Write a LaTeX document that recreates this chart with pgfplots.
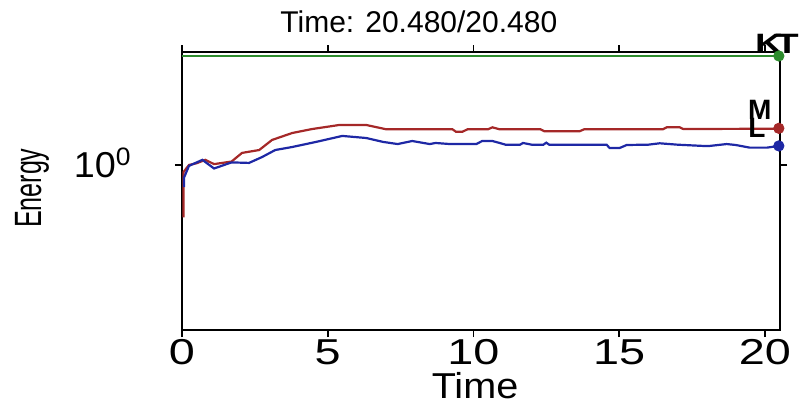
\documentclass[border=0pt]{standalone}
\usepackage{pgfplots}
\pgfplotsset{compat=1.18}
\usepackage{fontspec}
\setmainfont{Liberation Sans}
\definecolor{cG}{RGB}{45,140,45}
\definecolor{cR}{RGB}{165,40,40}
\definecolor{cB}{RGB}{30,40,165}
\begin{document}
\begin{tikzpicture}
\begin{axis}[
  scale only axis,
  width=299pt, height=139pt,
  ymode=log,
  xmin=0, xmax=20.52,
  ymin=0.3869, ymax=1.916,
  xtick={0,5,10,15,20},
  xticklabels={\scalebox{1.3}[1]{0},\scalebox{1.3}[1]{5},\scalebox{1.3}[1]{10},\scalebox{1.3}[1]{15},\scalebox{1.3}[1]{20}},
  ytick={1},
  yticklabels={\scalebox{1.05}[1]{10\textsuperscript{0}}},
  yminorticks=false,
  xminorticks=false,
  tick align=outside,
  tick pos=both,
  major tick length=3.5pt,
  tick style={black, line width=0.9pt},
  axis line style={line width=0.9pt},
  tick label style={font=\fontsize{18}{18}\selectfont, inner sep=0pt},
  xticklabel style={anchor=base, yshift=-13.5pt},
  yticklabel style={anchor=base east, xshift=-21.5pt, yshift=-6.5pt},
  clip=false,
]
\addplot[cG, line width=1.1pt] coordinates {(0,1.873) (20.48,1.873)};
\addplot[cR, line width=1.1pt] coordinates {
(0.05,0.74) (0.05,0.96) (0.24,1.0) (0.5,1.01) (0.8,1.03) (1.1,1.005) (1.7,1.02)
(2.06,1.072) (2.65,1.09) (3.09,1.155) (3.78,1.202) (4.47,1.23) (5.4,1.259) (6.32,1.259)
(7.01,1.228) (9.28,1.228) (9.4,1.211) (9.62,1.211) (9.8,1.228) (10.5,1.228) (10.65,1.242)
(10.9,1.228) (12.3,1.228) (12.44,1.214) (13.64,1.214) (13.8,1.228) (16.5,1.228)
(16.63,1.242) (17.08,1.242) (17.2,1.230) (20.48,1.232)};
\addplot[cB, line width=1.1pt] coordinates {
(0.07,0.88) (0.07,0.93) (0.24,0.995) (0.7,1.03) (1.1,0.98) (1.7,1.015) (2.3,1.012)
(2.75,1.047) (3.2,1.09) (3.78,1.109) (4.6,1.142) (5.5,1.182) (6.32,1.168) (6.9,1.142)
(7.4,1.128) (7.9,1.148) (8.5,1.128) (8.7,1.135) (9.2,1.128) (10.1,1.128) (10.3,1.148)
(10.65,1.148) (10.9,1.135) (11.1,1.124) (11.6,1.124) (11.7,1.135) (12.0,1.124)
(12.4,1.124) (12.5,1.137) (12.6,1.124) (14.57,1.124) (14.67,1.103) (15.02,1.103)
(15.26,1.122) (16.0,1.124) (16.39,1.133) (17.0,1.124) (17.87,1.116) (18.11,1.116)
(18.69,1.128) (19.0,1.122) (19.48,1.105) (20.07,1.105) (20.48,1.116)};
\addplot[only marks, mark=*, mark size=2.6pt, cG] coordinates {(20.48,1.873)};
\addplot[only marks, mark=*, mark size=2.6pt, cR] coordinates {(20.48,1.235)};
\addplot[only marks, mark=*, mark size=2.6pt, cB] coordinates {(20.48,1.116)};
\node[anchor=south, font=\fontsize{14}{14}\selectfont\bfseries, inner sep=0pt, yshift=1pt, xshift=-1pt] at (axis cs:20.48,1.873) {\scalebox{1.35}[1]{K\kern-2.5pt T}};
\node[anchor=south east, font=\fontsize{14}{14}\selectfont\bfseries, inner sep=0pt, yshift=4pt, xshift=-3.5pt] at (axis cs:20.48,1.235) {M};
\node[anchor=south east, font=\fontsize{14}{14}\selectfont\bfseries, inner sep=0pt, yshift=4pt, xshift=-6.5pt] at (axis cs:20.48,1.116) {L};
\node[anchor=base, font=\fontsize{15}{15}\selectfont, inner sep=0pt] at ([yshift=10pt]rel axis cs:0.396,1) {Time: 20.480/20.480};
\node[anchor=base, font=\fontsize{18}{18}\selectfont, inner sep=0pt] at ([yshift=-34pt]rel axis cs:0.49,0) {\scalebox{1.1}[1]{Time}};
\node[rotate=90, font=\fontsize{19}{19}\selectfont, inner sep=0pt] at ([xshift=-75pt]rel axis cs:0,0.51) {\scalebox{0.66}[1]{Energy}};
\end{axis}
\pgfresetboundingbox
\path[use as bounding box] ([shift={(-91pt,-36.5pt)}]current axis.south west) rectangle ([shift={(13pt,26pt)}]current axis.north east);
\end{tikzpicture}
\end{document}
